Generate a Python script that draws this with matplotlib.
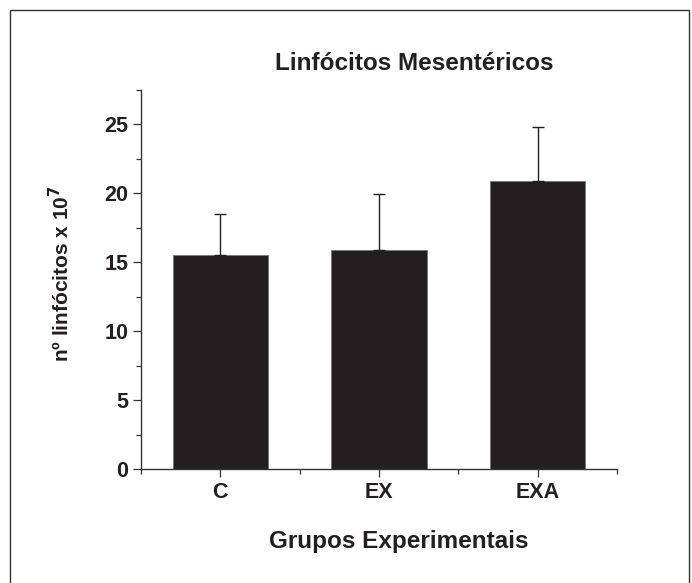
import matplotlib.pyplot as plt
from matplotlib.patches import Rectangle
from matplotlib.ticker import MultipleLocator, FixedLocator

# Datos del gráfico
grupos = ["C", "EX", "EXA"]
medias = [15.5, 15.9, 20.9]
errores = [3.0, 4.05, 3.9]

plt.rcParams['font.family'] = ['Liberation Sans', 'DejaVu Sans']
plt.rcParams['font.weight'] = 'bold'

fig = plt.figure(figsize=(6.92, 5.83), dpi=100)
ax = fig.add_axes([141 / 692, 1 - 469 / 583, 476 / 692, 379 / 583])

posiciones = list(range(1, len(grupos) + 1))
ax.bar(posiciones, medias, width=0.6, color="#231f20", edgecolor="#777777", linewidth=0.6)
ax.errorbar(posiciones, medias, yerr=[[0] * len(errores), errores], fmt="none",
            ecolor="#231f20", elinewidth=1.0, capsize=4, capthick=1.0)

ax.set_xlim(0.5, 3.5)
ax.set_ylim(0, 27.5)
ax.set_xticks(posiciones)
ax.set_xticklabels(grupos, fontsize=15.5, fontweight='bold', color="#231f20")
ax.xaxis.set_minor_locator(FixedLocator([0.5, 1.5, 2.5, 3.5]))
ax.yaxis.set_major_locator(MultipleLocator(5))
ax.yaxis.set_minor_locator(MultipleLocator(2.5))
for lbl in ax.get_yticklabels():
    lbl.set_fontsize(15.5)
    lbl.set_fontweight('bold')
    lbl.set_color("#231f20")

ax.tick_params(which='major', direction='out', length=6, width=0.9, color="#333333", pad=3)
ax.tick_params(which='minor', direction='out', length=3.5, width=0.9, color="#333333")

for lado in ["top", "right"]:
    ax.spines[lado].set_visible(False)
for lado in ["left", "bottom"]:
    ax.spines[lado].set_color("#333333")
    ax.spines[lado].set_linewidth(1.0)

ax.set_ylabel(r"nº linfócitos x 10$^{\mathbf{7}}$", fontsize=15, fontweight='bold', color="#231f20")
ax.yaxis.set_label_coords(-0.143, 0.515)
ax.set_xlabel("Grupos Experimentais", fontsize=17.5, fontweight='bold', color="#231f20")
ax.xaxis.set_label_coords((399 - 141) / 476, -0.16)

fig.text(414 / 692, 1 - 64 / 583, "Linfócitos Mesentéricos", fontsize=17.5,
         fontweight='bold', ha='center', va='center', color="#231f20")

# Marco alrededor de la figura
marco = Rectangle((10 / 692, -0.02), 679 / 692, 1 - 10 / 583 + 0.02,
                  transform=fig.transFigure, fill=False, edgecolor="#333333",
                  linewidth=1.0, clip_on=False)
fig.patches.append(marco)

fig.savefig("out.png", dpi=100)
